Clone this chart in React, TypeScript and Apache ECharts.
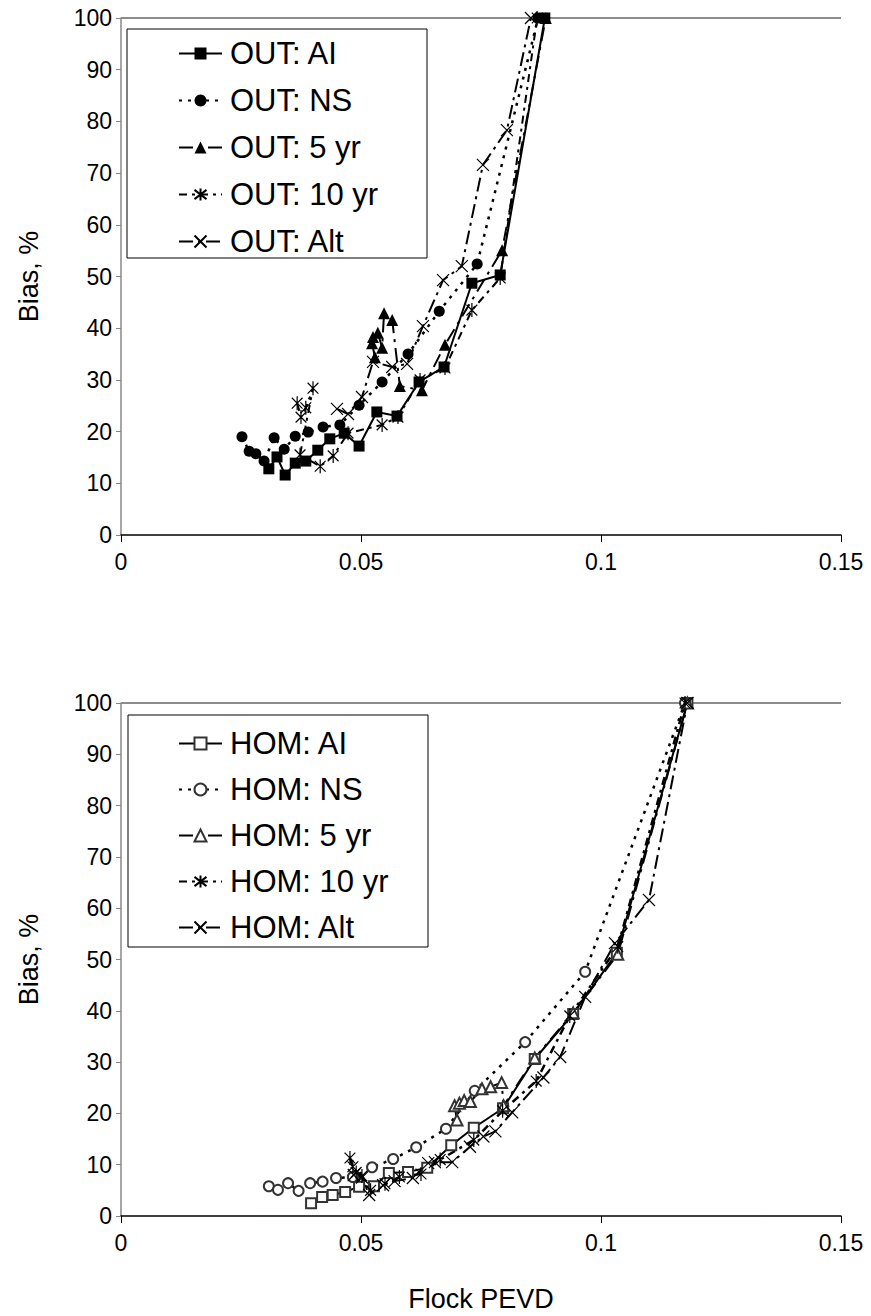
import React, { useEffect, useRef } from "react";
import * as echarts from "echarts";

// ---------- data (x = Flock PEVD, y = Bias %) ----------
const outAI = [[0.0308,12.8],[0.0325,15.1],[0.0342,11.6],[0.0363,13.9],[0.0385,14.3],[0.041,16.4],[0.0435,18.6],[0.0465,19.7],[0.0496,17.2],[0.0533,23.8],[0.0575,23.0],[0.0621,29.6],[0.0673,32.5],[0.0731,48.7],[0.079,50.3],[0.0883,100]];
const outNS = [[0.0252,19.0],[0.0267,16.2],[0.0281,15.7],[0.0298,14.3],[0.0319,18.8],[0.034,16.6],[0.0363,19.1],[0.039,19.9],[0.0421,20.9],[0.0456,21.3],[0.0496,25.1],[0.0544,29.6],[0.0598,35.0],[0.0663,43.3],[0.0742,52.4],[0.0869,100]];
const out5 = [[0.0529,34.4],[0.0523,37.1],[0.0525,38.3],[0.0535,39.1],[0.0544,36.2],[0.0548,42.9],[0.0565,41.6],[0.0581,28.8],[0.0627,28.0],[0.0675,36.8],[0.0794,55.1],[0.0885,100]];
const out10 = [[0.0367,25.5],[0.0375,22.8],[0.0385,24.6],[0.04,28.4],[0.0373,15.5],[0.0415,13.3],[0.0442,15.3],[0.0473,19.7],[0.0544,21.3],[0.0577,22.8],[0.0623,30.0],[0.0675,32.3],[0.0731,43.5],[0.079,49.7],[0.0867,100]];
const outAlt = [[0.045,24.4],[0.0473,23.4],[0.0502,26.7],[0.0525,33.5],[0.0565,32.5],[0.0596,33.1],[0.0629,40.4],[0.0671,49.3],[0.071,52.0],[0.0754,71.6],[0.0804,78.3],[0.0854,100]];

const homAI = [[0.0396,2.5],[0.0419,3.7],[0.0441,4.1],[0.0467,4.7],[0.0496,5.7],[0.0527,5.8],[0.0558,8.4],[0.0598,8.6],[0.0638,9.4],[0.0688,13.8],[0.0735,17.2],[0.0796,21.0],[0.0862,30.6],[0.0942,39.4],[0.1033,51.3],[0.118,100]];
const homNS = [[0.0308,5.8],[0.0327,5.1],[0.0348,6.4],[0.037,4.9],[0.0394,6.4],[0.042,6.7],[0.0448,7.4],[0.0483,7.6],[0.0523,9.5],[0.0567,11.1],[0.0615,13.4],[0.0677,17.0],[0.0737,24.4],[0.0842,33.9],[0.0967,47.6],[0.1175,100]];
const hom5 = [[0.07,18.7],[0.0695,21.5],[0.0705,22.0],[0.0715,22.5],[0.0728,22.3],[0.0752,24.8],[0.077,25.2],[0.0793,26.0],[0.0797,21.5],[0.0862,30.8],[0.0942,39.6],[0.1035,51.0],[0.118,100]];
const hom10 = [[0.0477,11.3],[0.0483,9.6],[0.049,8.5],[0.0502,7.8],[0.052,5.0],[0.055,6.3],[0.058,7.6],[0.0625,8.2],[0.0665,11.0],[0.0735,14.8],[0.0795,20.5],[0.0865,26.3],[0.0935,39.0],[0.1035,52.5],[0.1175,100]];
const homAlt = [[0.0485,8.0],[0.0502,7.5],[0.0517,4.1],[0.0546,6.0],[0.057,6.8],[0.0608,7.4],[0.064,10.3],[0.0654,10.5],[0.069,10.5],[0.0727,13.5],[0.0755,15.5],[0.078,16.5],[0.0815,20.2],[0.088,27.0],[0.0915,31.0],[0.0967,42.7],[0.1029,53.2],[0.11,61.6],[0.118,100]];

const topNames = ["OUT: AI", "OUT: NS", "OUT: 5 yr", "OUT: 10 yr", "OUT: Alt"];
const bottomNames = ["HOM: AI", "HOM: NS", "HOM: 5 yr", "HOM: 10 yr", "HOM: Alt"];
const xTicks = [0, 0.05, 0.1, 0.15];

const FONT = 'Arial, "Liberation Sans", sans-serif';
const ASTERISK = "path://M-5,-5L5,5M-5,5L5,-5M0,-6.5L0,6.5";
const CROSS = "path://M-5,-5L5,5M-5,5L5,-5";

const DASH = {
  solid: "solid",
  dot: [3, 6],
  longDashDot2: [14, 6, 3, 6],
  dashDot: [8, 5, 3, 5],
  longDashDot: [14, 5, 3, 5],
};

function mk(name, data, idx, symbol, size, dash, opts = {}) {
  const stroke = opts.stroke;
  return {
    name,
    type: "line",
    xAxisIndex: idx,
    yAxisIndex: idx,
    data,
    symbol,
    symbolSize: size,
    symbolKeepAspect: true,
    showAllSymbol: true,
    lineStyle: { color: "#000", width: opts.width || 2, type: dash },
    itemStyle: stroke
      ? { color: "none", borderColor: "#000", borderWidth: 1.2 }
      : opts.empty
      ? { color: "#333", borderColor: "#333", borderWidth: 1.2 }
      : { color: "#000", borderColor: "#000", borderWidth: 0 },
    emphasis: { disabled: true },
  };
}

function axes(idx) {
  return {
    x: {
      type: "value",
      gridIndex: idx,
      min: 0,
      max: 0.15,
      interval: 0.05,
      axisLine: { onZero: false, lineStyle: { color: "#000", width: 1.5 } },
      axisTick: { show: true, length: 7, lineStyle: { color: "#000" } },
      axisLabel: {
        color: "#000",
        fontSize: 23,
        fontFamily: FONT,
        margin: 15,
        formatter: (v) => (xTicks.some((t) => Math.abs(t - v) < 1e-9) ? String(+v.toFixed(2)) : ""),
      },
      splitLine: { show: false },
      ...(idx === 1
        ? {
            name: "Flock PEVD",
            nameLocation: "middle",
            nameGap: 69,
            nameTextStyle: { color: "#000", fontSize: 27, fontFamily: FONT },
          }
        : {}),
    },
    y: {
      type: "value",
      gridIndex: idx,
      min: 0,
      max: 100,
      interval: 10,
      name: "Bias, %",
      nameLocation: "middle",
      nameGap: 79,
      nameTextStyle: { color: "#000", fontSize: 27, fontFamily: FONT },
      axisLine: { show: true, lineStyle: { color: "#888", width: 1.5 } },
      axisTick: { show: true, length: 5, lineStyle: { color: "#888" } },
      axisLabel: { color: "#000", fontSize: 23, fontFamily: FONT, margin: 9 },
      splitLine: { show: false },
    },
  };
}

export default function App() {
  const ref = useRef(null);
  useEffect(() => {
    const chart = echarts.init(ref.current, null, { renderer: "svg" });
    const a0 = axes(0);
    const a1 = axes(1);
    const legendCommon = {
      orient: "vertical",
      itemWidth: 43,
      itemHeight: 15,
      itemGap: 16,
      selectedMode: false,
      textStyle: { color: "#000", fontSize: 31, fontFamily: FONT, lineHeight: 30, padding: [0, 0, 0, 3] },
      padding: 0,
    };
    chart.setOption({
      animation: false,
      backgroundColor: "#fff",
      grid: [
        { left: 121, top: 18, width: 720, height: 517 },
        { left: 121, top: 703, width: 720, height: 513 },
      ],
      xAxis: [a0.x, a1.x],
      yAxis: [a0.y, a1.y],
      legend: [
        { ...legendCommon, data: topNames, left: 178, top: 38 },
        { ...legendCommon, data: bottomNames, left: 178, top: 728, itemGap: 15 },
      ],
      graphic: [
        { type: "rect", shape: { x: 127, y: 29, width: 300, height: 229 }, style: { fill: "none", stroke: "#000", lineWidth: 1 }, z: 10 },
        { type: "rect", shape: { x: 128, y: 715, width: 300, height: 232 }, style: { fill: "none", stroke: "#000", lineWidth: 1 }, z: 10 },
        { type: "line", shape: { x1: 121, y1: 18, x2: 841, y2: 18 }, style: { stroke: "#666", lineWidth: 1.5 } },
        { type: "line", shape: { x1: 121, y1: 703, x2: 841, y2: 703 }, style: { stroke: "#666", lineWidth: 1.5 } },
      ],
      series: [
        mk("OUT: AI", outAI, 0, "rect", 11, DASH.solid),
        mk("OUT: NS", outNS, 0, "circle", 11, DASH.dot, { width: 2.5 }),
        mk("OUT: 5 yr", out5, 0, "triangle", 12, DASH.longDashDot2),
        mk("OUT: 10 yr", out10, 0, ASTERISK, 14, DASH.dashDot, { stroke: true }),
        mk("OUT: Alt", outAlt, 0, CROSS, 12, DASH.longDashDot, { stroke: true }),
        mk("HOM: AI", homAI, 1, "emptyRect", 10, DASH.solid, { empty: true }),
        mk("HOM: NS", homNS, 1, "emptyCircle", 10, DASH.dot, { empty: true, width: 2.5 }),
        mk("HOM: 5 yr", hom5, 1, "emptyTriangle", 11, DASH.longDashDot2, { empty: true }),
        mk("HOM: 10 yr", hom10, 1, ASTERISK, 14, DASH.dashDot, { stroke: true, width: 2.5 }),
        mk("HOM: Alt", homAlt, 1, CROSS, 12, DASH.longDashDot, { stroke: true }),
      ],
    });
    return () => chart.dispose();
  }, []);
  return (
    <div
      ref={ref}
      style={{ position: "absolute", left: 0, top: 0, width: 871, height: 1316, background: "#fff" }}
    />
  );
}
